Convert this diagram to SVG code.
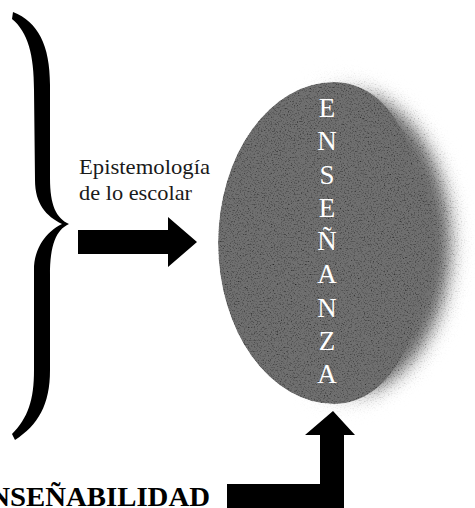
<svg xmlns="http://www.w3.org/2000/svg" width="475" height="508" viewBox="0 0 475 508">
  <style>
    .lbl { font-family: "Liberation Serif", "Times New Roman", serif; fill: #1a1a1a; }
    .vert { font-family: "Liberation Serif", "Times New Roman", serif; font-size: 27px; fill: #ffffff; text-anchor: middle; }
    .big { font-family: "Liberation Serif", "Times New Roman", serif; font-size: 28px; font-weight: bold; fill: #000; }
    .solid { fill: #000; }
    .egg { fill: #6f6f6f; }
  </style>
  <defs>
    <linearGradient id="gR" gradientUnits="userSpaceOnUse" x1="290" y1="0" x2="380" y2="0">
      <stop offset="0" stop-color="#000"/>
      <stop offset="1" stop-color="#fff"/>
    </linearGradient>
    <mask id="mR" maskUnits="userSpaceOnUse" x="0" y="0" width="475" height="508">
      <rect x="0" y="0" width="475" height="508" fill="url(#gR)"/>
    </mask>
    <filter id="soft" filterUnits="userSpaceOnUse" x="150" y="30" width="340" height="440">
      <feGaussianBlur stdDeviation="10"/>
    </filter>
    <filter id="grain" filterUnits="userSpaceOnUse" x="170" y="40" width="320" height="420">
      <feTurbulence type="fractalNoise" baseFrequency="0.7" numOctaves="2" seed="7" result="noise"/>
      <feColorMatrix in="noise" type="matrix" values="2.2 0 0 0 -0.12  2.2 0 0 0 -0.12  2.2 0 0 0 -0.12  0 0 0 0 1" result="gn"/>
      <feBlend in="SourceGraphic" in2="gn" mode="multiply" result="b"/>
      <feComposite in="b" in2="SourceGraphic" operator="in"/>
    </filter>
  </defs>

  <g id="brace">
    <path class="solid" d="M 13 12 C 38 22, 50 45, 50 85 L 50 178 C 50 205, 56 218, 69 224 C 56 230, 50 245, 50 275 L 50 370 C 50 405, 38 425, 15 440 L 12 434 C 28 418, 34 400, 34 370 L 34 270 C 34 248, 46 232, 62 224 C 46 216, 35 204, 35 180 L 34 90 C 34 55, 28 32, 12 19 Z"/>
  </g>

  <g id="label-epistemologia">
    <text class="lbl" x="79" y="174" font-size="22" textLength="131" lengthAdjust="spacingAndGlyphs">Epistemología</text>
    <text class="lbl" x="79" y="200" font-size="22" textLength="113" lengthAdjust="spacingAndGlyphs">de lo escolar</text>
  </g>

  <g id="ensenanza">
    <g filter="url(#grain)">
      <ellipse class="egg" cx="337" cy="243" rx="121" ry="163" filter="url(#soft)" mask="url(#mR)"/>
      <path class="egg" d="M 334 82 A 116 161 0 0 0 334 404 C 390 404, 425 335, 425 243 C 425 151, 390 82, 334 82 Z"/>
    </g>
    <text class="vert" x="327" y="117">E</text>
    <text class="vert" x="327" y="150">N</text>
    <text class="vert" x="327" y="184">S</text>
    <text class="vert" x="327" y="217">E</text>
    <text class="vert" x="327" y="250">Ñ</text>
    <text class="vert" x="327" y="283">A</text>
    <text class="vert" x="327" y="317">N</text>
    <text class="vert" x="327" y="350">Z</text>
    <text class="vert" x="327" y="383">A</text>
  </g>

  <g id="ensenabilidad">
    <text class="big" x="-30" y="506" textLength="240" lengthAdjust="spacingAndGlyphs">ENSEÑABILIDAD</text>
  </g>

  <g id="connectors">
    <polygon class="solid" points="78,230 168,230 168,217 197,242 168,267 168,254 78,254"/>
    <polygon class="solid" points="227,484 320,484 320,435 305,435 333,411 355,435 344,435 344,508 227,508"/>
  </g>
</svg>
